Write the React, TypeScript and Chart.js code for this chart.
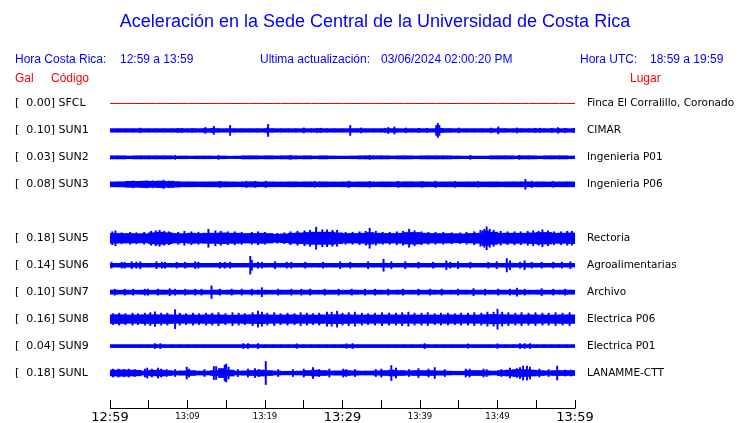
import { useEffect, useRef } from 'react';
import { Chart, registerables } from 'chart.js';

Chart.register(...registerables);

// ---------- DATA ----------
const TITLE = 'Aceleración en la Sede Central de la Universidad de Costa Rica';
const HORA_CR_LABEL = 'Hora Costa Rica:';
const HORA_CR_RANGE = '12:59 a 13:59';
const UPDATE_LABEL = 'Ultima actualización:';
const UPDATE_VALUE = '03/06/2024 02:00:20 PM';
const HORA_UTC_LABEL = 'Hora UTC:';
const HORA_UTC_RANGE = '18:59 a 19:59';
const HEAD_GAL = 'Gal';
const HEAD_CODE = 'Código';
const HEAD_PLACE = 'Lugar';

const CODES = ['SFCL', 'SUN1', 'SUN2', 'SUN3', 'SUN5', 'SUN6', 'SUN7', 'SUN8', 'SUN9', 'SUNL'];
const GAL = ['0.00', '0.10', '0.03', '0.08', '0.18', '0.14', '0.10', '0.16', '0.04', '0.18'];
const PLACES = [
  'Finca El Corralillo, Coronado', 'CIMAR', 'Ingenieria P01', 'Ingenieria P06', 'Rectoria',
  'Agroalimentarias', 'Archivo', 'Electrica P06', 'Electrica P01', 'LANAMME-CTT',
];
// row slot of each station (slot 4 = SUN4, not shown)
const ROWS = [0, 1, 2, 3, 5, 6, 7, 8, 9, 10];

const X_TICK_MINUTES = [0, 5, 10, 15, 20, 25, 30, 35, 40, 45, 50, 55, 60];
const X_TICK_LABELS = ['12:59', '', '13:09', '', '13:19', '', '13:29', '', '13:39', '', '13:49', '', '13:59'];
const X_MAJOR = ['12:59', '13:29', '13:59'];

// per-minute half-envelope of each trace (display amplitude units)
const ENV_SFCL = [
  0, 0, 0, 0, 0, 0, 0, 0, 0, 0, 0, 0, 0, 0, 0, 0, 0, 0, 0, 0,
  0, 0, 0, 0, 0, 0, 0, 0, 0, 0, 0, 0, 0, 0, 0, 0, 0, 0, 0, 0,
  0, 0, 0, 0, 0, 0, 0, 0, 0, 0, 0, 0, 0, 0, 0, 0, 0, 0, 0, 0,
];
const ENV_SUN1 = [
  1.8, 1.8, 1.8, 1.8, 1.8, 1.8, 1.8, 1.8, 1.8, 1.8, 1.8, 1.8, 1.9, 1.9, 1.8, 1.8, 1.8, 1.8, 1.8, 1.8,
  1.9, 1.8, 1.8, 1.8, 1.8, 1.8, 1.8, 1.8, 1.8, 1.8, 1.8, 1.9, 1.8, 1.8, 1.8, 1.8, 1.9, 1.8, 1.8, 1.8,
  1.8, 1.8, 2.1, 1.9, 1.8, 1.8, 1.8, 1.8, 1.8, 1.8, 1.9, 1.8, 1.8, 1.8, 1.8, 1.8, 1.8, 1.8, 1.8, 1.8,
];
const ENV_SUN2 = [
  1.6, 1.6, 1.4, 1.6, 1.6, 1.6, 1.6, 1.6, 1.3, 1.4, 1.3, 1.4, 1.4, 1.3, 1.4, 1.2, 1.3, 1.6, 1.6, 1.5,
  1.6, 1.5, 1.6, 1.6, 1.5, 1.6, 1.4, 1.6, 1.4, 1.3, 1.3, 1.4, 1.6, 1.6, 1.6, 1.6, 1.4, 1.6, 1.6, 1.4,
  1.6, 1.6, 1.6, 1.6, 1.4, 1.3, 1.3, 1.3, 1.3, 1.6, 1.6, 1.6, 1.4, 1.6, 1.6, 1.4, 1.6, 1.6, 1.6, 1.4,
];
const ENV_SUN3 = [
  2.5, 2.6, 3.0, 3.0, 3.2, 3.0, 3.3, 3.0, 2.8, 2.5, 2.5, 2.4, 2.5, 2.5, 2.6, 2.5, 2.4, 2.5, 2.6, 2.4,
  2.5, 2.4, 2.4, 2.5, 2.4, 2.5, 2.4, 2.5, 2.4, 2.4, 2.5, 2.4, 2.5, 2.4, 2.4, 2.5, 2.4, 2.5, 2.6, 2.5,
  2.5, 2.4, 2.4, 2.5, 2.4, 2.4, 2.5, 2.4, 2.4, 2.5, 2.4, 2.5, 2.5, 2.5, 2.4, 2.5, 2.4, 2.4, 2.5, 2.5,
];
const ENV_SUN5 = [
  5.0, 4.8, 4.8, 4.6, 4.6, 5.6, 6.1, 5.6, 4.8, 4.6, 5.1, 4.8, 5.1, 5.1, 5.4, 5.1, 5.1, 4.8, 4.8, 5.1,
  4.8, 4.1, 4.4, 5.1, 5.4, 5.8, 6.1, 6.1, 6.1, 5.4, 4.8, 4.8, 5.1, 5.8, 5.1, 4.8, 4.8, 5.1, 5.8, 5.8,
  5.1, 4.8, 4.8, 4.8, 4.6, 4.4, 4.8, 5.1, 7.3, 6.1, 5.1, 5.1, 5.1, 5.1, 5.4, 5.8, 5.8, 5.1, 5.1, 5.4,
];
const ENV_SUN6 = [
  1.9, 1.9, 1.9, 1.9, 1.9, 1.9, 1.9, 1.9, 1.9, 1.9, 1.9, 1.9, 1.9, 1.9, 1.9, 1.9, 1.9, 1.9, 2.0, 1.9,
  1.9, 1.9, 1.9, 1.9, 1.9, 1.9, 1.9, 1.9, 1.9, 1.9, 1.9, 1.9, 1.9, 1.9, 1.9, 2.0, 1.9, 1.9, 1.9, 1.9,
  1.9, 1.9, 1.9, 1.9, 1.9, 1.9, 1.9, 1.9, 1.9, 1.9, 1.9, 2.0, 1.9, 1.9, 1.9, 1.9, 1.9, 1.9, 1.9, 1.9,
];
const ENV_SUN7 = [
  2.1, 2.0, 2.1, 2.0, 2.1, 2.0, 2.2, 2.1, 2.0, 2.0, 2.1, 2.0, 2.0, 2.2, 2.0, 2.1, 2.0, 2.0, 2.0, 2.1,
  2.0, 2.0, 2.1, 2.0, 2.0, 2.1, 2.0, 2.0, 2.1, 2.0, 2.0, 2.1, 2.0, 2.0, 2.1, 2.0, 2.0, 2.1, 2.0, 2.0,
  2.0, 2.1, 2.0, 2.0, 2.0, 2.1, 2.0, 2.1, 2.0, 2.0, 2.1, 2.0, 2.2, 2.0, 2.0, 2.1, 2.0, 2.0, 2.1, 2.1,
];
const ENV_SUN8 = [
  4.4, 4.4, 4.2, 4.2, 4.4, 4.5, 4.3, 4.4, 4.2, 4.2, 4.2, 4.1, 4.3, 4.2, 4.2, 4.0, 4.1, 4.3, 4.4, 4.5,
  4.2, 4.1, 4.2, 4.3, 4.1, 4.2, 4.1, 4.3, 4.5, 4.5, 4.3, 4.2, 4.1, 4.2, 4.1, 4.2, 4.3, 4.2, 4.1, 4.2,
  4.1, 4.2, 4.1, 4.3, 4.2, 4.1, 4.1, 4.2, 4.4, 4.7, 4.5, 4.3, 4.2, 4.2, 4.3, 4.2, 4.1, 4.2, 4.3, 4.3,
];
const ENV_SUN9 = [
  1.5, 1.5, 1.5, 1.5, 1.5, 1.5, 1.5, 1.5, 1.5, 1.5, 1.5, 1.5, 1.5, 1.5, 1.5, 1.5, 1.5, 1.5, 1.5, 1.5,
  1.5, 1.5, 1.5, 1.5, 1.5, 1.5, 1.5, 1.5, 1.5, 1.5, 1.5, 1.5, 1.5, 1.5, 1.5, 1.5, 1.5, 1.5, 1.5, 1.5,
  1.5, 1.5, 1.5, 1.5, 1.5, 1.5, 1.5, 1.5, 1.5, 1.5, 1.5, 1.5, 1.5, 1.5, 1.5, 1.5, 1.5, 1.5, 1.5, 1.5,
];
const ENV_SUNL = [
  3.0, 3.2, 3.0, 2.8, 2.0, 2.8, 3.0, 2.5, 2.0, 2.2, 2.5, 2.0, 2.0, 2.5, 4.5, 3.0, 2.0, 2.2, 2.5, 3.0,
  2.5, 2.0, 1.8, 1.8, 2.0, 2.5, 3.0, 2.5, 2.0, 2.2, 2.5, 2.2, 2.0, 2.0, 2.2, 2.5, 3.0, 2.5, 2.2, 2.5,
  2.5, 2.5, 2.2, 2.0, 1.8, 1.8, 2.5, 2.5, 2.2, 2.0, 2.5, 3.0, 3.5, 3.5, 3.0, 2.5, 2.2, 2.5, 2.5, 2.5,
];

// transient peaks: [minute, half-amplitude]
const SPK_SFCL: number[][] = [];
const SPK_SUN1 = [
  [3.9, 2.3], [8.7, 2.0], [9.3, 2.0], [10.6, 2.0], [12.3, 3.0], [13.2, 2.2], [13.4, 4.0], [15.5, 5.0],
  [20.3, 2.5], [20.4, 6.0], [25.0, 2.5], [26.7, 2.2], [27.2, 2.2], [31.0, 5.0], [32.4, 2.5], [35.5, 2.2],
  [35.9, 3.0], [36.7, 3.5], [38.2, 2.4], [39.8, 2.2], [40.9, 2.2], [42.1, 5.0], [42.3, 7.0], [42.5, 5.0],
  [45.0, 2.4], [49.2, 2.4], [50.1, 3.5], [52.5, 2.5], [54.8, 2.2], [55.5, 2.2], [57.0, 2.2], [57.8, 2.8],
  [58.7, 2.2], [59.8, 2.2],
];
const SPK_SUN2 = [[8.4, 2.0], [14.0, 2.0], [23.3, 2.0], [33.5, 2.0], [46.5, 2.0], [52.8, 2.0]];
const SPK_SUN3 = [
  [3.0, 3.5], [4.7, 3.5], [5.5, 3.5], [6.9, 4.2], [7.6, 3.3], [8.1, 3.3], [14.2, 3.0], [17.6, 3.2],
  [18.7, 3.0], [20.1, 3.2], [26.4, 3.0], [30.8, 3.2], [33.5, 3.0], [37.2, 3.0], [40.3, 3.0], [42.0, 3.2],
  [44.5, 3.0], [47.5, 2.9], [53.6, 5.0], [54.4, 3.2], [57.2, 3.0],
];
const SPK_SUN5 = [
  [0.3, 6.5], [0.7, 7.5], [1.5, 5.5], [2.6, 6.0], [3.4, 5.5], [4.4, 6.0], [5.3, 7.0], [5.9, 7.5],
  [6.4, 8.0], [7.0, 7.0], [7.6, 6.5], [8.8, 6.0], [9.6, 7.0], [10.5, 6.5], [11.4, 6.0], [12.7, 9.0],
  [13.6, 7.5], [14.3, 7.0], [15.2, 6.5], [16.1, 6.5], [17.0, 6.0], [18.3, 6.0], [19.1, 6.5], [20.0, 6.0],
  [21.6, 5.0], [22.5, 5.5], [23.3, 6.5], [24.2, 7.0], [25.1, 7.5], [25.8, 8.0], [26.6, 11.0], [27.4, 8.5],
  [28.0, 8.5], [28.7, 8.0], [29.3, 8.0], [30.4, 6.0], [31.3, 6.0], [32.2, 6.5], [33.0, 7.0], [33.5, 10.0],
  [34.3, 7.0], [35.2, 6.0], [36.1, 6.0], [37.0, 6.5], [37.8, 7.0], [38.6, 9.0], [39.3, 7.5], [40.2, 6.5],
  [41.1, 6.0], [42.0, 6.0], [43.0, 6.0], [44.1, 5.5], [45.2, 5.5], [46.0, 6.0], [47.0, 6.5], [47.8, 8.0],
  [48.3, 9.0], [48.6, 11.5], [49.0, 9.0], [49.5, 8.0], [50.4, 7.0], [51.3, 6.5], [52.2, 6.5], [53.0, 6.5],
  [53.9, 7.0], [54.6, 7.5], [55.3, 7.0], [55.8, 8.5], [56.5, 7.5], [57.3, 6.5], [58.2, 6.5], [59.0, 7.0],
  [59.6, 7.0],
];
const SPK_SUN6 = [
  [0.2, 3.0], [1.5, 3.0], [1.9, 3.0], [2.8, 3.5], [3.4, 3.0], [3.9, 3.5], [6.0, 3.5], [6.7, 3.0],
  [7.1, 3.0], [8.6, 3.0], [9.7, 3.0], [11.0, 3.5], [11.4, 3.0], [14.2, 3.0], [14.8, 3.0], [15.5, 3.0],
  [18.1, 9.0], [18.3, 5.0], [19.1, 3.0], [19.6, 3.0], [21.3, 3.5], [22.8, 3.0], [23.4, 3.0], [25.2, 3.0],
  [27.5, 3.0], [29.7, 3.5], [31.0, 3.0], [33.3, 3.5], [35.3, 6.0], [36.3, 3.5], [38.1, 3.5], [39.8, 3.0],
  [41.7, 3.0], [43.4, 4.5], [43.9, 3.0], [44.9, 3.5], [46.5, 3.0], [48.8, 3.0], [49.9, 3.5], [51.2, 6.7],
  [51.6, 4.5], [52.9, 3.0], [53.5, 4.5], [54.4, 3.0], [55.7, 3.0], [57.2, 3.0], [58.3, 3.0], [59.4, 3.5],
];
const SPK_SUN7 = [
  [0.6, 3.0], [1.9, 3.0], [3.0, 3.0], [4.5, 3.0], [4.9, 3.0], [6.2, 3.0], [7.7, 3.5], [8.4, 3.0],
  [9.7, 3.0], [11.0, 3.0], [11.8, 3.0], [13.1, 6.3], [14.2, 3.0], [15.7, 3.0], [17.0, 3.0], [18.3, 3.0],
  [19.6, 4.5], [21.7, 3.0], [23.4, 3.0], [24.7, 3.0], [25.8, 3.0], [27.7, 3.0], [29.5, 3.0], [31.2, 3.0],
  [32.9, 3.0], [34.2, 3.0], [35.9, 3.0], [37.8, 3.0], [39.8, 3.0], [41.3, 3.0], [42.8, 3.0], [44.9, 3.0],
  [46.9, 3.5], [48.4, 3.0], [50.1, 3.0], [51.6, 3.0], [52.5, 4.0], [53.5, 3.0], [55.7, 3.5], [57.2, 3.0],
  [58.7, 3.0],
];
const SPK_SUN8 = [
  [0.4, 5.5], [1.2, 6.0], [2.0, 5.5], [2.9, 6.0], [3.6, 5.5], [4.5, 6.0], [5.2, 6.5], [5.8, 7.3],
  [6.6, 6.0], [7.4, 6.0], [8.4, 9.5], [9.0, 6.0], [9.8, 5.5], [10.7, 6.0], [11.5, 5.5], [12.4, 6.0],
  [13.2, 6.0], [14.0, 6.5], [14.9, 5.5], [15.8, 6.5], [16.6, 6.0], [17.4, 5.5], [18.4, 6.5], [19.1, 8.0],
  [19.6, 7.0], [20.3, 6.0], [21.2, 6.5], [22.0, 5.5], [22.9, 6.0], [23.8, 5.5], [24.6, 6.5], [25.4, 6.0],
  [26.2, 5.5], [27.0, 6.0], [28.0, 7.0], [28.6, 7.0], [29.3, 8.0], [30.0, 6.0], [30.8, 6.5], [31.6, 7.0],
  [32.5, 6.0], [33.3, 5.5], [34.2, 6.0], [35.1, 6.5], [36.0, 6.0], [36.9, 6.0], [37.7, 6.5], [38.5, 7.0],
  [39.3, 6.0], [40.2, 6.0], [41.0, 6.5], [41.9, 5.5], [42.7, 6.0], [43.6, 6.0], [44.5, 5.5], [45.3, 6.0],
  [46.2, 6.0], [47.0, 6.5], [47.9, 6.0], [48.7, 7.0], [49.5, 7.0], [50.0, 10.0], [50.6, 7.0], [51.4, 6.5],
  [52.3, 6.0], [53.1, 6.5], [54.0, 6.0], [54.9, 6.5], [55.8, 6.0], [56.6, 6.0], [57.5, 6.5], [58.4, 6.0],
  [59.3, 6.5],
];
const SPK_SUN9 = [
  [5.8, 2.5], [6.5, 2.5], [17.2, 2.5], [17.8, 2.5], [19.1, 2.5], [24.1, 2.3], [30.5, 2.3], [31.3, 2.5],
  [40.6, 2.5], [46.2, 2.2], [50.0, 2.3], [52.9, 2.5], [53.5, 2.5], [54.2, 2.5],
];
const SPK_SUNL = [
  [0.4, 4.0], [1.1, 4.0], [1.8, 3.5], [2.4, 4.0], [3.2, 3.5], [4.5, 4.0], [4.8, 5.0], [5.4, 4.0],
  [6.2, 5.0], [6.6, 4.0], [7.3, 3.5], [8.4, 3.5], [9.9, 6.0], [10.2, 4.0], [12.2, 3.5], [13.4, 6.5],
  [13.7, 6.5], [14.8, 8.0], [15.0, 9.0], [15.3, 6.0], [16.5, 3.5], [17.8, 4.0], [18.7, 4.5], [19.2, 3.5],
  [20.1, 11.5], [21.7, 3.5], [23.6, 3.5], [25.0, 4.0], [26.2, 5.5], [27.0, 3.5], [28.3, 4.0], [30.1, 4.0],
  [30.5, 3.5], [31.6, 3.5], [34.3, 3.5], [35.0, 4.0], [36.3, 7.5], [36.9, 5.0], [38.6, 3.5], [39.8, 4.5],
  [41.1, 4.0], [41.9, 5.5], [43.2, 3.5], [45.9, 4.0], [46.4, 4.0], [48.2, 4.0], [48.6, 3.5], [50.5, 3.5],
  [51.6, 5.0], [52.5, 4.5], [52.9, 5.5], [53.3, 7.0], [53.8, 7.0], [54.2, 6.0], [55.4, 4.0], [56.6, 3.5],
  [57.7, 7.0], [58.7, 3.0], [59.5, 3.0],
];

const ENVELOPES = [ENV_SFCL, ENV_SUN1, ENV_SUN2, ENV_SUN3, ENV_SUN5, ENV_SUN6, ENV_SUN7, ENV_SUN8, ENV_SUN9, ENV_SUNL];
const SPIKES = [SPK_SFCL, SPK_SUN1, SPK_SUN2, SPK_SUN3, SPK_SUN5, SPK_SUN6, SPK_SUN7, SPK_SUN8, SPK_SUN9, SPK_SUNL];

// ---------- LAYOUT / STYLE ----------
const ROW_GAP = 27;
const BLUE = '#0000ff';
const RED = '#ff0000';

const headerPlugin = {
  id: 'header',
  afterDraw(chart: any) {
    const ctx = chart.ctx;
    const { chartArea } = chart;
    ctx.save();
    // axis base line under the tick marks
    ctx.strokeStyle = '#000';
    ctx.lineWidth = 1;
    ctx.beginPath();
    ctx.moveTo(chartArea.left, chartArea.bottom + 8.5);
    ctx.lineTo(chartArea.right + 0.5, chartArea.bottom + 8.5);
    ctx.stroke();

    ctx.textBaseline = 'middle';
    ctx.fillStyle = BLUE;
    ctx.textAlign = 'center';
    ctx.font = '18px "Liberation Sans", Arial, sans-serif';
    ctx.fillText(TITLE, 375, 22);

    ctx.textAlign = 'left';
    ctx.font = '12px "Liberation Sans", Arial, sans-serif';
    ctx.fillText(HORA_CR_LABEL, 15, 60);
    ctx.fillText(HORA_CR_RANGE, 120, 60);
    ctx.fillText(UPDATE_LABEL, 260, 60);
    ctx.fillText(UPDATE_VALUE, 381, 60);
    ctx.fillText(HORA_UTC_LABEL, 580, 60);
    ctx.fillText(HORA_UTC_RANGE, 650, 60);

    ctx.fillStyle = RED;
    ctx.fillText(HEAD_GAL, 15, 79);
    ctx.fillText(HEAD_CODE, 51, 79);
    ctx.fillText(HEAD_PLACE, 630, 79);
    ctx.restore();
  },
};

export default function App() {
  const ref = useRef<HTMLCanvasElement | null>(null);

  useEffect(() => {
    if (!ref.current) return;
    const datasets: any[] = [];
    CODES.forEach((code, i) => {
      const c = ROWS[i] * ROW_GAP;
      const env = ENVELOPES[i];
      if (code === 'SFCL') {
        datasets.push({
          type: 'line',
          label: code,
          data: env.flatMap((a, k) => [{ x: k, y: c + a }, { x: k + 1, y: c + a }]),
          borderColor: '#d00000',
          borderWidth: 1,
          pointRadius: 0,
          fill: false,
          yAxisID: 'y',
        });
        return;
      }
      datasets.push({
        type: 'bar',
        label: code,
        data: env.map((a, k) => ({ x: k + 0.5, y: [c - a, c + a] })),
        backgroundColor: BLUE,
        borderWidth: 0,
        barThickness: 8,
        grouped: false,
        yAxisID: 'y',
      });
      datasets.push({
        type: 'bar',
        label: code + ' peaks',
        data: SPIKES[i].map(([t, a]) => ({ x: t, y: [c - a, c + a] })),
        backgroundColor: BLUE,
        borderWidth: 0,
        barThickness: 1.3,
        grouped: false,
        yAxisID: 'y',
      });
    });

    const labelFor = (v: number, which: 'left' | 'right') => {
      const idx = ROWS.indexOf(Math.round(v / ROW_GAP));
      if (idx < 0) return '';
      return which === 'left' ? `[  ${GAL[idx]}] ${CODES[idx]}` : PLACES[idx];
    };

    const Y_MIN = -26.5;
    const Y_MAX = 11 * ROW_GAP;

    const chart = new Chart(ref.current, {
      type: 'bar',
      data: { datasets },
      plugins: [headerPlugin],
      options: {
        animation: false,
        responsive: false,
        devicePixelRatio: 1,
        layout: { padding: { left: 15, top: 77, right: 0, bottom: 0 } },
        plugins: { legend: { display: false }, tooltip: { enabled: false }, title: { display: false } },
        scales: {
          x: {
            type: 'linear',
            min: 0,
            max: 60,
            offset: false,
            grid: { display: true, drawOnChartArea: false, drawTicks: true, tickLength: 8, color: '#000', offset: false, lineWidth: 1 },
            border: { display: false },
            afterBuildTicks: (s: any) => { s.ticks = X_TICK_MINUTES.map((v) => ({ value: v })); },
            afterFit: (s: any) => { s.height = 23; },
            ticks: {
              autoSkip: false,
              maxRotation: 0,
              padding: 2,
              color: '#000',
              font: (ctx: any) => {
                const v = ctx.tick ? ctx.tick.value : 0;
                const lbl = X_TICK_LABELS[X_TICK_MINUTES.indexOf(v)];
                return X_MAJOR.includes(lbl)
                  ? { family: 'DejaVu Sans', size: 13, lineHeight: 1.2 }
                  : { family: 'DejaVu Sans', size: 8.5, lineHeight: 1.6 };
              },
              callback: (v: any) => {
                const k = X_TICK_MINUTES.indexOf(Number(v));
                return k >= 0 ? X_TICK_LABELS[k] : '';
              },
            },
          },
          y: {
            type: 'linear',
            position: 'left',
            reverse: true,
            min: Y_MIN,
            max: Y_MAX,
            grid: { display: false, drawTicks: false },
            border: { display: false },
            afterBuildTicks: (s: any) => { s.ticks = ROWS.map((r) => ({ value: r * ROW_GAP })); },
            afterFit: (s: any) => { s.width = 95; },
            ticks: {
              autoSkip: false,
              crossAlign: 'far',
              padding: 0,
              color: '#000',
              font: { family: 'DejaVu Sans', size: 11 },
              callback: (v: any) => labelFor(Number(v), 'left'),
            },
          },
          yR: {
            type: 'linear',
            position: 'right',
            reverse: true,
            min: Y_MIN,
            max: Y_MAX,
            grid: { display: false, drawTicks: false },
            border: { display: false },
            afterBuildTicks: (s: any) => { s.ticks = ROWS.map((r) => ({ value: r * ROW_GAP })); },
            afterFit: (s: any) => { s.width = 165; },
            ticks: {
              autoSkip: false,
              padding: 12,
              color: '#000',
              font: { family: 'DejaVu Sans', size: 10.5 },
              callback: (v: any) => labelFor(Number(v), 'right'),
            },
          },
        },
      } as any,
    });
    return () => chart.destroy();
  }, []);

  return (
    <div style={{ position: 'absolute', left: 0, top: 0, width: 740, height: 423, background: '#fff' }}>
      <canvas ref={ref} width={740} height={423} style={{ width: 740, height: 423, display: 'block' }} />
    </div>
  );
}
